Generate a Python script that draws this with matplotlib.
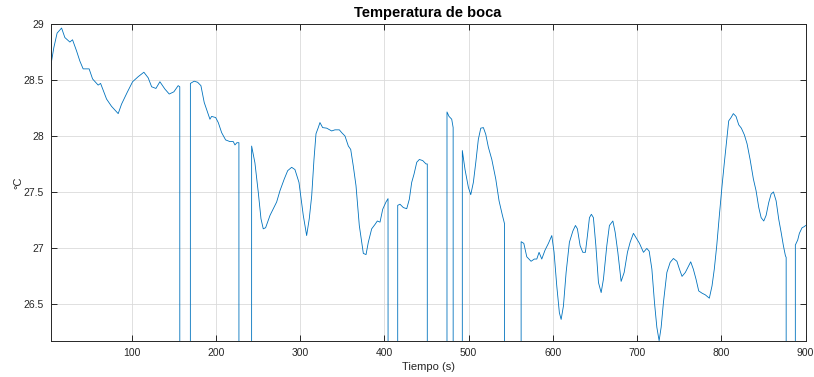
import matplotlib
matplotlib.use("Agg")
import matplotlib.pyplot as plt

plt.rcParams['font.family'] = ['Liberation Sans', 'DejaVu Sans']

# time (s) and mouth temperature (°C); 0 values are sensor dropouts
tiempo = [
    3, 7.7, 11.6, 16.9, 20.8, 26.7, 29.9, 34.7, 38.6, 42.5, 49.6, 53.7, 60.3, 63.2,
    70.3, 76.2, 84.1, 88.1, 94.8, 101.2, 107.8, 114.6, 119.7, 123.8, 128.9, 133.6,
    139.5, 144.7, 150.2, 155.3, 157.2, 157.6, 169.4,
    169.8, 174.3, 178.4, 182.3, 186.2, 190.3, 193, 195, 199.8, 202.9, 206.9, 211.6,
    216.7, 220.7, 222.7, 225, 227.4, 227.8, 242.2,
    242.5, 246.4, 250.4, 253.6, 256.3, 259.1, 264.3, 272.2, 276.1, 281.2, 285.3,
    290, 293.9, 298.7, 303.8, 307.8, 310.9, 313.8, 316.5, 318.9, 321.6, 323.6,
    326.8, 331.6, 337.5, 341.4, 346.6, 349.4, 353.3, 357.3, 360.1, 363.2, 366.4,
    370.3, 375.1, 378.3, 381, 385, 389, 391.7, 394.9, 398.1, 402, 404.4, 405.4, 415.7,
    415.9, 418.6, 422.6, 426.6, 429.7, 432.5, 435.3, 438.5, 441.6, 445.6, 449.5,
    451.0, 451.3, 474.2,
    474.4, 476.8, 480, 481.7, 482.0, 492.4,
    492.6, 495.8, 499.8, 502.6, 505.7, 508.6, 511.6, 514.5, 517.6, 520.4, 523.5,
    527.6, 532.3, 536.2, 540.2, 542.7, 543.1, 562.2,
    562.4, 565.6, 569.1, 574.2, 578.1, 581, 583.7, 586.9, 590.8, 594.8, 598.8,
    601.5, 604.7, 607.8, 609.9, 612.6, 615.8, 619.7, 623.8, 626.9, 629.2, 632.4,
    635.6, 638.7, 641.1, 643.5, 645.8, 648.2, 651.1, 654.2, 657.4, 660.1, 664.1,
    667.2, 671.3, 674, 677.2, 681.1, 684.7, 688.6, 691.8, 695.7, 698.9, 702.9,
    707.6, 711.6, 714.4, 717.6, 720.7, 723.5, 726.2, 728.6, 731.3, 735.4, 739.3,
    743.2, 747.3, 750.3, 753.4, 757.3, 761.3, 763.7, 766.8, 770, 773.2, 777.1,
    781, 785.8, 789, 791.7, 794.6, 797.7, 800.9, 803.6, 806.5, 808.8, 811.6,
    814.3, 817.5, 820.7, 823.8, 827.4, 830.6, 834.2, 838.1, 841.3, 844.5, 847.3,
    850.4, 853.2, 856.3, 859.1, 861.9, 865.1, 868.2, 871, 873.7, 876.1, 877.0,
    877.3, 887.7,
    887.9, 890.7, 892.7, 895.9, 898.6, 900,
]
temperatura = [
    28.58, 28.79, 28.92, 28.965, 28.88, 28.84, 28.86, 28.76, 28.67, 28.6, 28.6,
    28.51, 28.455, 28.47, 28.33, 28.265, 28.2, 28.285, 28.39, 28.485, 28.53, 28.57,
    28.52, 28.44, 28.425, 28.485, 28.42, 28.375, 28.395, 28.45, 28.44, 0, 0,
    28.47, 28.49, 28.48, 28.45, 28.30, 28.21, 28.15, 28.175, 28.165, 28.12, 28.03,
    27.965, 27.95, 27.95, 27.92, 27.94, 27.94, 0, 0,
    27.91, 27.76, 27.495, 27.26, 27.17, 27.18, 27.29, 27.41, 27.51, 27.615, 27.69,
    27.72, 27.70, 27.585, 27.29, 27.11, 27.26, 27.465, 27.79, 28.02, 28.075, 28.12,
    28.075, 28.07, 28.045, 28.055, 28.055, 28.03, 28.0, 27.91, 27.88, 27.73,
    27.555, 27.20, 26.95, 26.94, 27.05, 27.17, 27.21, 27.24, 27.23, 27.345, 27.41,
    27.44, 0, 0,
    27.38, 27.39, 27.36, 27.35, 27.435, 27.585, 27.66, 27.765, 27.79, 27.78, 27.75,
    27.75, 0, 0,
    28.215, 28.175, 28.15, 28.075, 0, 0,
    27.87, 27.70, 27.54, 27.475, 27.585, 27.765, 27.97, 28.07, 28.075, 28.015,
    27.90, 27.79, 27.615, 27.42, 27.29, 27.215, 0, 0,
    27.055, 27.04, 26.92, 26.88, 26.9, 26.9, 26.96, 26.9, 26.98, 27.04, 27.11,
    26.96, 26.66, 26.42, 26.36, 26.48, 26.78, 27.05, 27.15, 27.20, 27.17, 27.02,
    26.96, 26.96, 27.11, 27.27, 27.30, 27.27, 27.02, 26.69, 26.60, 26.72, 27.02,
    27.20, 27.24, 27.14, 26.96, 26.70, 26.78, 26.96, 27.05, 27.13, 27.09, 27.04,
    26.96, 26.995, 26.97, 26.81, 26.51, 26.29, 26.17, 26.29, 26.51, 26.78, 26.87,
    26.905, 26.88, 26.81, 26.745, 26.78, 26.84, 26.875, 26.81, 26.72, 26.615,
    26.595, 26.58, 26.55, 26.66, 26.81, 27.02, 27.29, 27.555, 27.76, 27.97,
    28.135, 28.165, 28.20, 28.175, 28.10, 28.07, 28.01, 27.93, 27.79, 27.615,
    27.51, 27.36, 27.27, 27.24, 27.29, 27.405, 27.48, 27.50, 27.42, 27.255, 27.14,
    27.02, 26.93, 26.915, 0, 0,
    27.025, 27.07, 27.13, 27.18, 27.19, 27.20,
]

x_ticks = [100, 200, 300, 400, 500, 600, 700, 800, 900]
y_ticks = [26.5, 27, 27.5, 28, 28.5, 29]
y_tick_labels = ['26.5', '27', '27.5', '28', '28.5', '29']

fig = plt.figure(figsize=(8.14, 3.77), dpi=100)
ax = fig.add_axes([0.0623, 0.0963, 0.9273, 0.8397])

ax.plot(tiempo, temperatura, color='#0072BD', linewidth=0.6)

ax.set_xlim(4, 900)
ax.set_ylim(26.17, 29)
ax.set_xticks(x_ticks)
ax.set_yticks(y_ticks)
ax.set_yticklabels(y_tick_labels)

ax.grid(True, color='#DADADA', linewidth=0.6)
ax.set_axisbelow(True)
for s in ax.spines.values():
    s.set_color('#262626')
    s.set_linewidth(0.7)
ax.tick_params(direction='in', length=4.5, width=0.7, color='#262626',
               labelsize=7.5, labelcolor='#262626', top=True, right=True, pad=5)

ax.set_title('Temperatura de boca', fontsize=10.5, fontweight='bold', pad=5)
ax.set_xlabel('Tiempo (s)', fontsize=8, color='#262626', labelpad=3)
ax.set_ylabel('°C', fontsize=8, color='#262626', labelpad=0)

fig.savefig('out.png', dpi=100)
